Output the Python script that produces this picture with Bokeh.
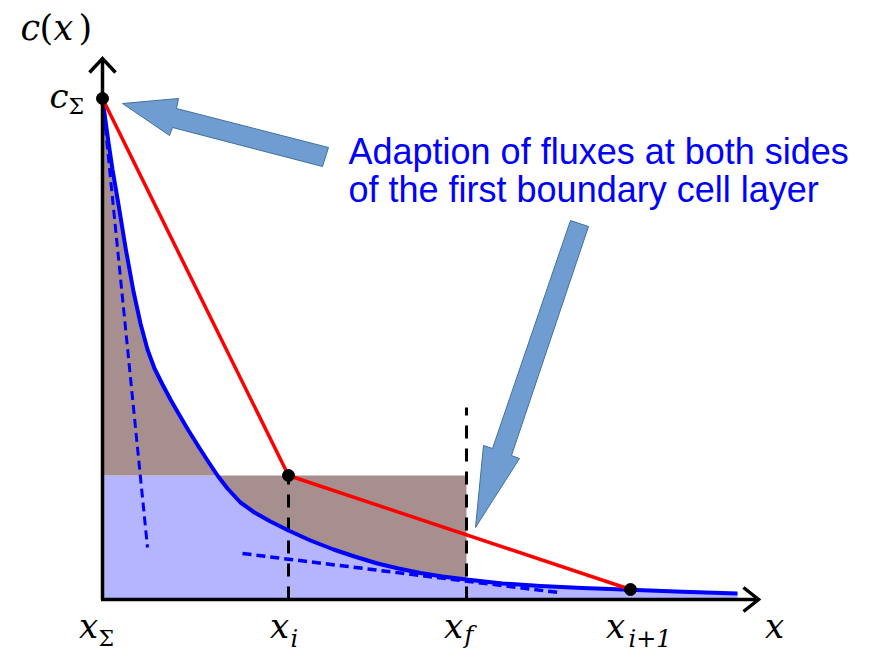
import numpy as np
from bokeh.plotting import figure
from bokeh.core.properties import value
from bokeh.embed import file_html
from bokeh.resources import INLINE

# ---------------- data (schematic values) ----------------
node_subs = ["Σ", "i", "i+1"]
x_nodes = [0.0, 1.86, 5.28]          # x_Sigma, x_i, x_{i+1}
c_nodes = [5.01, 1.24, 0.10]         # c at the nodes (red piecewise-linear profile)
x_f = 3.64                           # face position
x_f_top = 1.92                       # top of the dashed face line

curve_x = [0.00, 0.05, 0.10, 0.16, 0.23, 0.31, 0.38, 0.45, 0.52, 0.60, 0.68, 0.76,
           0.86, 0.96, 1.05, 1.15, 1.25, 1.38, 1.52, 1.68, 1.86, 2.08, 2.31, 2.52,
           2.75, 2.96, 3.18, 3.40, 3.64, 4.00, 4.38, 4.80, 5.28, 5.80, 6.35]
curve_c = [5.01, 4.64, 4.30, 3.95, 3.52, 3.08, 2.76, 2.50, 2.31, 2.15, 2.00, 1.86,
           1.69, 1.53, 1.39, 1.24, 1.11, 0.97, 0.87, 0.78, 0.69, 0.59, 0.50, 0.43,
           0.36, 0.31, 0.265, 0.23, 0.20, 0.16, 0.135, 0.115, 0.097, 0.078, 0.06]

tan1_x = [0.00, 0.45]
tan1_c = [5.01, 0.52]
tan2_x = [1.40, 4.56]
tan2_c = [0.46, 0.07]

x_axis_end = 6.56
c_axis_end = 5.41
head = 0.13

arrow1_x = [0.20, 0.76, 0.74, 2.26, 2.20, 0.70, 0.67]
arrow1_c = [4.96, 5.01, 4.91, 4.52, 4.33, 4.72, 4.64]
arrow2_x = [4.68, 4.86, 4.09, 4.17, 3.73, 3.81, 3.90]
arrow2_c = [3.79, 3.73, 1.44, 1.41, 0.72, 1.54, 1.51]

note_lines = ["Adaption of fluxes at both sides", "of the first boundary cell layer"]

# ---------------- figure ----------------
p = figure(width=890, height=651, x_range=(-1.02, 7.88), y_range=(-0.52, 5.99),
           output_backend="svg", toolbar_location=None,
           x_axis_location=None, y_axis_location=None, min_border=0)
p.grid.visible = False
p.outline_line_color = None
p.background_fill_color = "white"

c_i = c_nodes[1]
cx = np.array(curve_x)
cc = np.array(curve_c)

# light blue area below min(curve, c_i)
p.varea(x=cx, y1=0, y2=np.minimum(cc, c_i), fill_color="#B4B4FF")
# brown area between curve and c_i up to the face
m = cx <= x_f + 1e-9
p.varea(x=cx[m], y1=cc[m], y2=c_i, fill_color="#A78F8F")

# dashed vertical lines
p.segment(x0=[x_nodes[1], x_f], y0=[0, 0], x1=[x_nodes[1], x_f], y1=[c_i, x_f_top],
          line_color="black", line_width=3, line_dash="13 10")

# tangents
p.line(tan1_x, tan1_c, line_color="blue", line_width=3, line_dash="9 5")
p.line(tan2_x, tan2_c, line_color="blue", line_width=3.5, line_dash="9 5")

# exact profile
p.line(cx, cc, line_color="blue", line_width=4, line_join="round")

# red piecewise linear
p.line(x_nodes, c_nodes, line_color="red", line_width=3.5)

# axes
p.multi_line(xs=[[0, 0], [-0.015, x_axis_end]], ys=[[0, c_axis_end], [0, 0]],
             line_color="black", line_width=3.5)
p.multi_line(xs=[[-head, 0, head], [x_axis_end - 0.15, x_axis_end, x_axis_end - 0.15]],
             ys=[[c_axis_end - 0.14, c_axis_end, c_axis_end - 0.14], [head - 0.01, 0, -head + 0.01]],
             line_color="black", line_width=3.5, line_join="miter")

# node dots
p.scatter(x_nodes, c_nodes, size=12, color="black")

# block arrows
p.patch(arrow1_x, arrow1_c, fill_color="#6F9DD1", line_color="#41719C", line_width=1)
p.patch(arrow2_x, arrow2_c, fill_color="#6F9DD1", line_color="#41719C", line_width=1)

serif = value("DejaVu Serif")

# c(x) label
p.text(x=[-0.82, -0.49], y=[5.72, 5.72], text=["c", "x"], text_font=serif,
       text_font_style="italic", text_font_size="35px", text_baseline="alphabetic")
p.text(x=[-0.63, -0.24], y=[5.72, 5.72], text=["(", ")"], text_font=serif,
       text_font_size="35px", text_baseline="alphabetic")

# c_Sigma label
p.text(x=[x_nodes[0] - 0.34], y=[c_nodes[0] + 0.03], text=["c"], text_font=serif,
       text_font_style="italic", text_font_size="34px", text_baseline="alphabetic",
       text_align="right")
p.text(x=[x_nodes[0] - 0.34], y=[c_nodes[0] - 0.08], text=["Σ"], text_font=serif,
       text_font_size="22px", text_baseline="alphabetic")

# x tick labels
main_x = [x_nodes[0] - 0.14, x_nodes[1] - 0.09, x_f - 0.13, x_nodes[2] - 0.15, 6.72]
p.text(x=main_x, y=[-0.26] * 5, text=["x"] * 5, text_font=serif, text_font_style="italic",
       text_font_size="34px", text_baseline="alphabetic", text_align="center")
p.text(x=[x_nodes[0] - 0.04], y=[-0.39], text=[node_subs[0]], text_font=serif,
       text_font_size="22px", text_baseline="alphabetic")
p.text(x=[x_nodes[1] + 0.02, x_f - 0.02, x_nodes[2] - 0.02], y=[-0.39, -0.35, -0.39],
       text=[node_subs[1], "f", node_subs[2]], text_font=serif, text_font_style="italic",
       text_font_size="24px", text_baseline="alphabetic")

# annotation text
p.text(x=[2.46, 2.46], y=[4.48, 4.10], text=note_lines, text_font=value("Liberation Sans"),
       text_font_size="36px", text_color="blue", text_baseline="alphabetic")

open("out.html", "w").write(file_html(p, INLINE))
